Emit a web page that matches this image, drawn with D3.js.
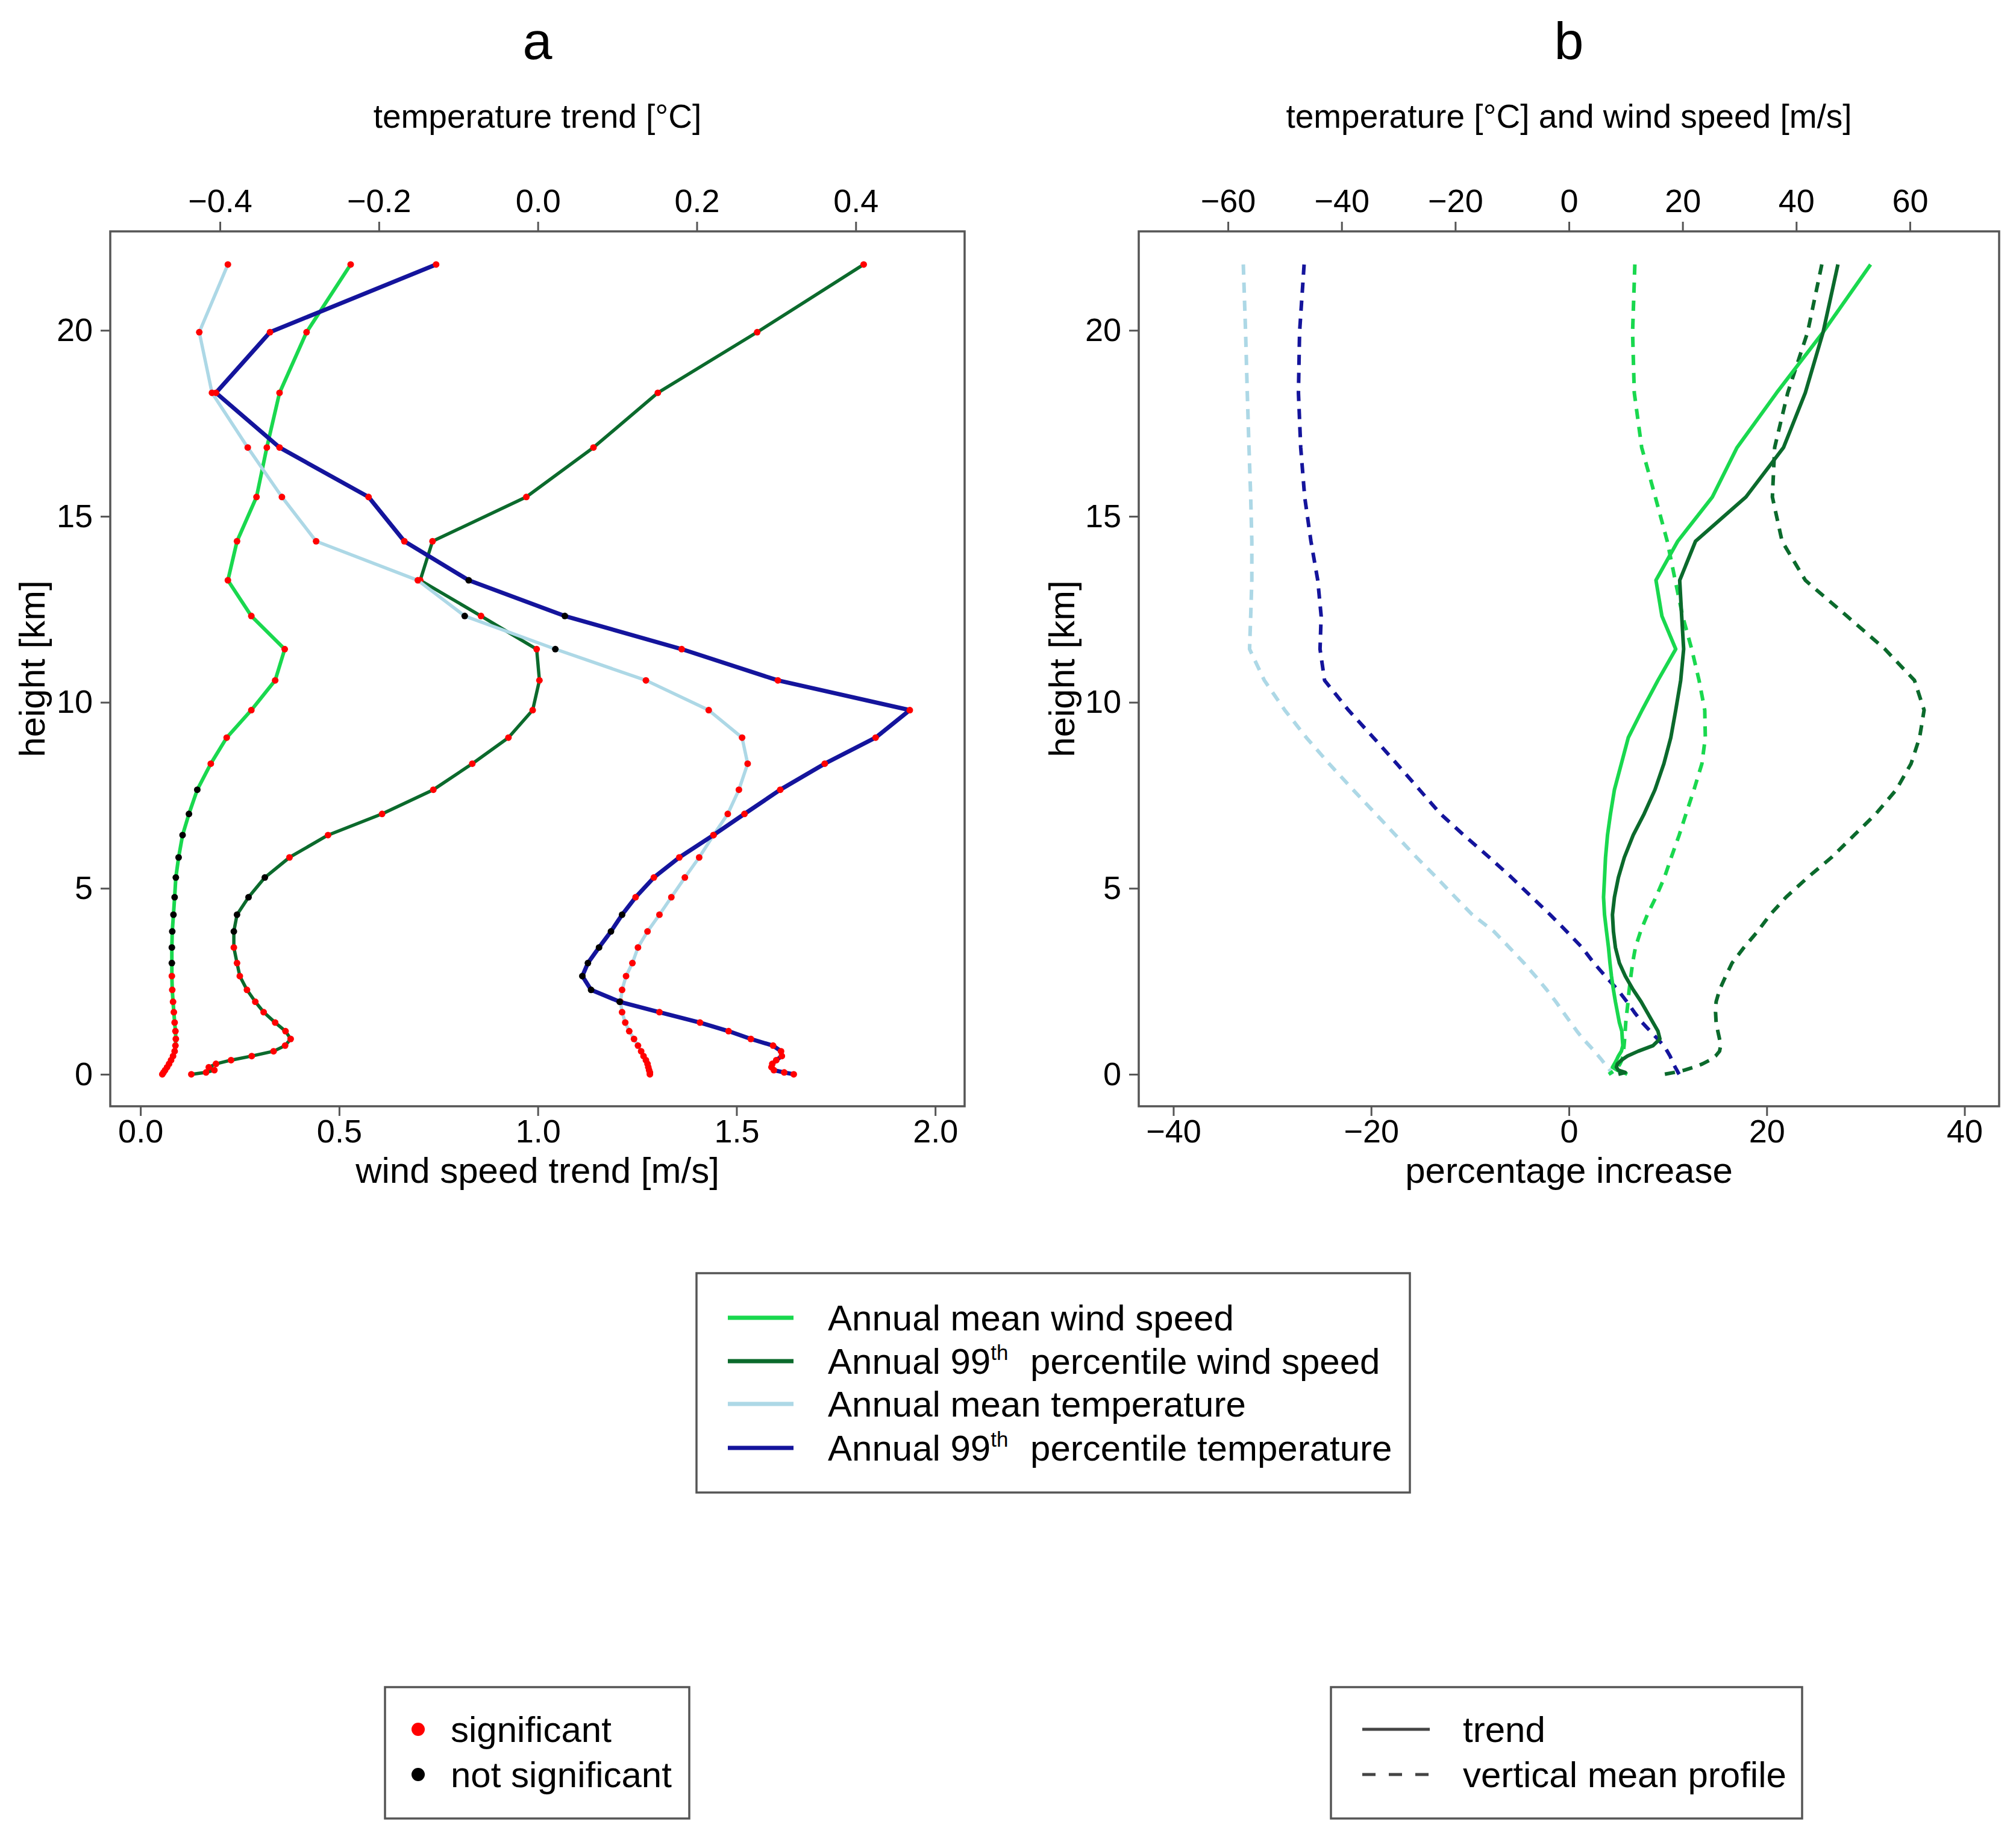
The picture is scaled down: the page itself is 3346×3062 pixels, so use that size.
<!DOCTYPE html>
<html>
<head>
<meta charset="utf-8">
<script src="https://cdn.jsdelivr.net/npm/d3@7"></script>
<style>
  html, body { margin: 0; padding: 0; background: #fff; }
  svg { display: block; font-family: "Liberation Sans", Arial, Helvetica, sans-serif; }
</style>
</head>
<body>
<svg width="3346" height="3062"></svg>
<script>
const svg = d3.select('svg');

// model levels [km], shared by every profile
const levels = [21.77, 19.95, 18.32, 16.85, 15.52, 14.33, 13.28, 12.32, 11.43, 10.59,
                9.79, 9.05, 8.35, 7.65, 7.0, 6.43, 5.83, 5.29, 4.76, 4.29,
                3.84, 3.41, 2.99, 2.64, 2.27, 1.95, 1.67, 1.39, 1.16, 0.95,
                0.77, 0.62, 0.49, 0.38, 0.28, 0.19, 0.11, 0.05, 0.0];

// panel a: trends
const windMeanTrend = [0.529, 0.418, 0.350, 0.318, 0.292, 0.243, 0.220, 0.279, 0.363, 0.339,
                       0.279, 0.217, 0.177, 0.143, 0.122, 0.106, 0.096, 0.089, 0.086, 0.083,
                       0.080, 0.079, 0.079, 0.079, 0.080, 0.082, 0.084, 0.086, 0.088, 0.089,
                       0.088, 0.086, 0.082, 0.077, 0.072, 0.067, 0.062, 0.058, 0.055];
const windP99Trend = [1.820, 1.552, 1.302, 1.140, 0.971, 0.735, 0.704, 0.857, 0.997, 1.004,
                      0.987, 0.926, 0.835, 0.737, 0.608, 0.472, 0.375, 0.313, 0.272, 0.243,
                      0.235, 0.235, 0.243, 0.250, 0.268, 0.289, 0.310, 0.339, 0.365, 0.378,
                      0.364, 0.335, 0.280, 0.228, 0.190, 0.172, 0.186, 0.165, 0.128];
const tempMeanTrend = [-0.390, -0.426, -0.410, -0.365, -0.322, -0.279, -0.151, -0.092, 0.022, 0.136,
                       0.215, 0.257, 0.264, 0.253, 0.239, 0.221, 0.203, 0.185, 0.168, 0.153,
                       0.138, 0.126, 0.119, 0.111, 0.106, 0.104, 0.106, 0.110, 0.115, 0.121,
                       0.126, 0.130, 0.133, 0.136, 0.138, 0.139, 0.140, 0.141, 0.141];
const tempP99Trend = [-0.128, -0.337, -0.405, -0.325, -0.213, -0.168, -0.087, 0.034, 0.181, 0.302,
                      0.468, 0.425, 0.361, 0.305, 0.260, 0.221, 0.178, 0.146, 0.123, 0.106,
                      0.092, 0.077, 0.063, 0.056, 0.067, 0.103, 0.153, 0.204, 0.240, 0.268,
                      0.296, 0.306, 0.307, 0.300, 0.295, 0.294, 0.297, 0.310, 0.322];

// levels where the trend is not significant
const windMeanNotSig = [7.65, 7.0, 6.43, 5.83, 5.29, 4.76, 4.29, 3.84, 3.41, 2.99];
const windP99NotSig = [5.29, 4.76, 4.29, 3.84];
const tempMeanNotSig = [12.32, 11.43];
const tempP99NotSig = [13.28, 12.32, 4.29, 3.84, 3.41, 2.99, 2.64, 2.27, 1.95];

// panel b: vertical mean profiles (top axis) and trends in percent (bottom axis)
const tempMeanProfile = [-57.3, -56.9, -56.6, -56.3, -56.0, -55.8, -55.8, -56.0, -56.2, -53.6,
                         -50.0, -46.2, -42.2, -38.0, -34.0, -30.5, -26.8, -23.3, -20.0, -17.0,
                         -13.2, -10.5, -7.9, -5.9, -3.9, -2.3, -1.0, 0.3, 1.4, 2.5,
                         3.6, 4.5, 5.2, 5.8, 6.3, 6.8, 7.2, 7.5, 7.7];
const tempP99Profile = [-46.6, -47.4, -47.6, -47.2, -46.5, -45.4, -44.2, -43.6, -43.8, -43.0,
                        -38.8, -34.4, -30.3, -26.3, -22.6, -18.5, -14.0, -10.1, -6.5, -3.3,
                        -0.4, 2.3, 4.4, 6.4, 8.6, 10.2, 11.5, 12.9, 14.3, 15.6,
                        16.7, 17.3, 17.8, 18.1, 18.4, 18.7, 19.0, 19.2, 19.4];
const windMeanProfile = [11.6, 11.2, 11.5, 12.8, 15.2, 17.3, 18.7, 20.0, 21.6, 22.9,
                         23.9, 24.0, 23.4, 22.0, 20.6, 19.4, 18.0, 16.8, 15.3, 13.8,
                         12.6, 11.7, 11.2, 10.9, 10.6, 10.4, 10.2, 10.0, 9.9, 9.8,
                         9.7, 9.6, 9.5, 9.3, 9.0, 8.6, 8.1, 7.5, 7.0];
const windP99Profile = [44.5, 42.0, 38.5, 36.2, 35.8, 37.5, 41.6, 48.9, 55.6, 60.8,
                        62.5, 61.7, 60.2, 57.6, 54.0, 50.2, 46.2, 42.0, 38.2, 35.4,
                        33.2, 30.8, 28.7, 27.6, 26.5, 25.9, 25.8, 25.9, 26.2, 26.5,
                        26.7, 26.5, 25.8, 24.8, 23.5, 22.0, 20.3, 18.5, 16.8];
const windMeanPct = [30.5, 25.7, 21.0, 17.0, 14.5, 11.0, 8.8, 9.4, 10.8, 9.0,
                     7.4, 6.0, 5.3, 4.6, 4.2, 3.9, 3.7, 3.6, 3.5, 3.6,
                     3.8, 4.0, 4.15, 4.3, 4.5, 4.7, 4.9, 5.1, 5.35, 5.4,
                     5.45, 5.3, 5.0, 4.8, 4.6, 4.4, 4.9, 5.5, 5.9];
const windP99Pct = [27.2, 25.7, 23.9, 21.7, 17.9, 12.8, 11.2, 11.4, 11.6, 11.3,
                    10.8, 10.3, 9.6, 8.7, 7.6, 6.5, 5.6, 5.0, 4.6, 4.4,
                    4.5, 4.7, 5.1, 5.7, 6.5, 7.3, 7.9, 8.5, 9.0, 9.2,
                    8.5, 7.0, 5.9, 5.3, 4.9, 4.8, 5.0, 5.7, 5.0];

// ticks and legend text
const heightTicks = [0, 5, 10, 15, 20];
const windTicks = [0, 0.5, 1.0, 1.5, 2.0];
const tempTrendTicks = [-0.4, -0.2, 0.0, 0.2, 0.4];
const pctTicks = [-40, -20, 0, 20, 40];
const profileTicks = [-60, -40, -20, 0, 20, 40, 60];
const seriesNames = ['Annual mean wind speed', 'Annual 99|percentile wind speed',
                     'Annual mean temperature', 'Annual 99|percentile temperature'];
const significanceNames = ['significant', 'not significant'];
const lineTypeNames = ['trend', 'vertical mean profile'];

const colors = {
  windMean: '#19d84e',
  windP99: '#0b6a2c',
  tempMean: '#add8e6',
  tempP99: '#14149c'
};
const frameColor = '#555';
const fontTick = 54;
const fontTopLabel = 55;
const fontLabel = 60;
const fontLegend = 60;

const toRows = values => levels.map((h, i) => ({ h: h, v: values[i] }));

// ---------- layout
const yScale = d3.scaleLinear().domain([-0.86, 22.66]).range([1836, 384]);

const panelA = { left: 183, right: 1601 };
const panelB = { left: 1890, right: 3318 };

const xWind = d3.scaleLinear().domain([-0.076, 2.074]).range([panelA.left, panelA.right]);
const xTempTrend = d3.scaleLinear().domain([-0.538, 0.537]).range([panelA.left, panelA.right]);
const xPct = d3.scaleLinear().domain([-43.5, 43.5]).range([panelB.left, panelB.right]);
const xProfile = d3.scaleLinear().domain([-75.7, 75.7]).range([panelB.left, panelB.right]);

const styleAxis = (g) => {
  g.attr('color', frameColor);
  g.selectAll('.domain').remove();
  g.selectAll('.tick line').attr('stroke-width', 3);
  g.selectAll('.tick text')
    .attr('fill', 'black')
    .attr('font-size', fontTick);
};

const drawFrame = (props) => {
  const { left, right, title, topLabel, bottomLabel, xBottom, xTop,
          bottomTicks, topTicks, bottomFormat, topFormat, yLabelX } = props;
  const top = yScale.range()[1];
  const bottom = yScale.range()[0];
  const cx = (left + right) / 2;

  svg.append('rect')
    .attr('x', left).attr('y', top)
    .attr('width', right - left).attr('height', bottom - top)
    .attr('fill', 'none')
    .attr('stroke', frameColor)
    .attr('stroke-width', 3.5);

  svg.append('g')
    .attr('transform', `translate(0,${bottom})`)
    .call(d3.axisBottom(xBottom).tickValues(bottomTicks).tickFormat(bottomFormat)
      .tickSize(16).tickSizeOuter(0).tickPadding(6))
    .call(styleAxis);

  svg.append('g')
    .attr('transform', `translate(0,${top})`)
    .call(d3.axisTop(xTop).tickValues(topTicks).tickFormat(topFormat)
      .tickSize(16).tickSizeOuter(0).tickPadding(16))
    .call(styleAxis);

  svg.append('g')
    .attr('transform', `translate(${left},0)`)
    .call(d3.axisLeft(yScale).tickValues(heightTicks).tickFormat(d3.format('d'))
      .tickSize(16).tickSizeOuter(0).tickPadding(13))
    .call(styleAxis);

  svg.append('text')
    .attr('x', cx).attr('y', 98)
    .attr('text-anchor', 'middle')
    .attr('font-size', 88)
    .text(title);

  svg.append('text')
    .attr('x', cx).attr('y', 212)
    .attr('text-anchor', 'middle')
    .attr('font-size', fontTopLabel)
    .text(topLabel);

  svg.append('text')
    .attr('x', cx).attr('y', 1963)
    .attr('text-anchor', 'middle')
    .attr('font-size', fontLabel)
    .text(bottomLabel);

  svg.append('text')
    .attr('transform', `translate(${yLabelX},${(top + bottom) / 2}) rotate(-90)`)
    .attr('text-anchor', 'middle')
    .attr('font-size', fontLabel)
    .text('height [km]');
};

// ---------- panel a
drawFrame({
  left: panelA.left, right: panelA.right,
  title: 'a',
  topLabel: 'temperature trend [°C]',
  bottomLabel: 'wind speed trend [m/s]',
  xBottom: xWind, xTop: xTempTrend,
  bottomTicks: windTicks, topTicks: tempTrendTicks,
  bottomFormat: d3.format('.1f'), topFormat: d3.format('.1f'),
  yLabelX: 74
});

const drawTrend = (props) => {
  const { values, xScale, color, width, notSig } = props;
  const rows = toRows(values);
  const line = d3.line().x(d => xScale(d.v)).y(d => yScale(d.h));
  svg.append('path')
    .datum(rows)
    .attr('fill', 'none')
    .attr('stroke', color)
    .attr('stroke-width', width)
    .attr('stroke-linejoin', 'round')
    .attr('d', line);
  svg.append('g')
    .selectAll('circle')
    .data(rows)
    .enter().append('circle')
      .attr('cx', d => xScale(d.v))
      .attr('cy', d => yScale(d.h))
      .attr('r', 5.5)
      .attr('fill', d => notSig.includes(d.h) ? 'black' : '#ff0000');
};

drawTrend({ values: windMeanTrend, xScale: xWind, color: colors.windMean, width: 6, notSig: windMeanNotSig });
drawTrend({ values: windP99Trend, xScale: xWind, color: colors.windP99, width: 5.5, notSig: windP99NotSig });
drawTrend({ values: tempMeanTrend, xScale: xTempTrend, color: colors.tempMean, width: 5.5, notSig: tempMeanNotSig });
drawTrend({ values: tempP99Trend, xScale: xTempTrend, color: colors.tempP99, width: 7, notSig: tempP99NotSig });

// ---------- panel b
drawFrame({
  left: panelB.left, right: panelB.right,
  title: 'b',
  topLabel: 'temperature [°C] and wind speed [m/s]',
  bottomLabel: 'percentage increase',
  xBottom: xPct, xTop: xProfile,
  bottomTicks: pctTicks, topTicks: profileTicks,
  bottomFormat: d3.format('d'), topFormat: d3.format('d'),
  yLabelX: 1783
});

const drawProfile = (props) => {
  const { values, xScale, color, dashed } = props;
  const line = d3.line().x(d => xScale(d.v)).y(d => yScale(d.h));
  svg.append('path')
    .datum(toRows(values))
    .attr('fill', 'none')
    .attr('stroke', color)
    .attr('stroke-width', 6)
    .attr('stroke-dasharray', dashed ? '17,13' : null)
    .attr('stroke-linejoin', 'round')
    .attr('d', line);
};

drawProfile({ values: tempMeanProfile, xScale: xProfile, color: colors.tempMean, dashed: true });
drawProfile({ values: tempP99Profile, xScale: xProfile, color: colors.tempP99, dashed: true });
drawProfile({ values: windMeanProfile, xScale: xProfile, color: colors.windMean, dashed: true });
drawProfile({ values: windP99Profile, xScale: xProfile, color: colors.windP99, dashed: true });
drawProfile({ values: windMeanPct, xScale: xPct, color: colors.windMean, dashed: false });
drawProfile({ values: windP99Pct, xScale: xPct, color: colors.windP99, dashed: false });

// ---------- legends
const legendBox = (x, y, w, h) => {
  svg.append('rect')
    .attr('x', x).attr('y', y)
    .attr('width', w).attr('height', h)
    .attr('fill', 'white')
    .attr('stroke', frameColor)
    .attr('stroke-width', 3.5);
};

// series legend
legendBox(1156, 2113, 1184, 364);
const seriesColors = [colors.windMean, colors.windP99, colors.tempMean, colors.tempP99];
const rowY = [2187, 2259, 2330, 2403];
seriesNames.forEach((name, i) => {
  svg.append('line')
    .attr('x1', 1208).attr('x2', 1317)
    .attr('y1', rowY[i]).attr('y2', rowY[i])
    .attr('stroke', seriesColors[i])
    .attr('stroke-width', 7);
  const parts = name.split('|');
  const t = svg.append('text')
    .attr('x', 1374).attr('y', rowY[i])
    .attr('dy', '0.35em')
    .attr('font-size', fontLegend);
  t.append('tspan').text(parts[0]);
  if (parts.length > 1) {
    t.append('tspan').attr('font-size', 35).attr('dy', -23).text('th');
    t.append('tspan').attr('dy', 23).attr('dx', 20).text(' ' + parts[1]);
  }
});

// significance legend
legendBox(639, 2800, 505, 218);
significanceNames.forEach((name, i) => {
  const y = 2870 + i * 75;
  svg.append('circle')
    .attr('cx', 694).attr('cy', y)
    .attr('r', 11)
    .attr('fill', i === 0 ? '#ff0000' : 'black');
  svg.append('text')
    .attr('x', 748).attr('y', y)
    .attr('dy', '0.35em')
    .attr('font-size', fontLegend)
    .text(name);
});

// line type legend
legendBox(2209, 2800, 782, 218);
lineTypeNames.forEach((name, i) => {
  const y = 2870 + i * 75;
  svg.append('line')
    .attr('x1', 2261).attr('x2', 2373)
    .attr('y1', y).attr('y2', y)
    .attr('stroke', '#444')
    .attr('stroke-width', 5)
    .attr('stroke-dasharray', i === 1 ? '22,22' : null);
  svg.append('text')
    .attr('x', 2428).attr('y', y)
    .attr('dy', '0.35em')
    .attr('font-size', fontLegend)
    .text(name);
});
</script>
</body>
</html>
